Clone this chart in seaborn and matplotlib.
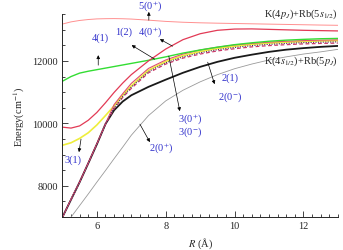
import matplotlib
matplotlib.use("Agg")
import matplotlib.pyplot as plt
from matplotlib.ticker import MultipleLocator
import seaborn as sns
import pandas as pd

# internuclear distance grid (Angstrom)
R = [5.0, 5.25, 5.5, 5.75, 6.0, 6.25, 6.5, 6.75, 7.0, 7.5, 8.0, 8.5,
     9.0, 9.5, 10.0, 10.5, 11.0, 11.5, 12.0, 12.5, 13.0]

# potential curves (cm^-1)
e_5_0p = [13180, 13250, 13295, 13325, 13345, 13352, 13355, 13350, 13340, 13305, 13265,
          13238, 13220, 13208, 13198, 13188, 13178, 13168, 13158, 13148, 13140]
e_4_0p = [9880, 9850, 9920, 10100, 10350, 10660, 10990, 11290, 11560, 12000, 12380,
          12680, 12870, 12980, 13020, 13025, 13010, 12995, 12980, 12970, 12960]
e_4_1 = [11350, 11500, 11610, 11670, 11720, 11770, 11820, 11870, 11920, 12020, 12130,
         12250, 12350, 12440, 12520, 12580, 12630, 12665, 12690, 12710, 12720]
e_3_1 = [9300, 9380, 9520, 9700, 9950, 10250, 10560, 10900, 11200, 11700, 11980,
         12170, 12300, 12400, 12470, 12530, 12570, 12600, 12620, 12640, 12650]
e_1_2 = [7000, 7570, 8140, 8740, 9360, 9990, 10600, 10950, 11280, 11760, 12030,
         12220, 12350, 12440, 12510, 12560, 12600, 12630, 12650, 12665, 12675]
e_3_0 = [7000, 7560, 8130, 8730, 9340, 9970, 10500, 10860, 11160, 11660, 11940,
         12130, 12260, 12360, 12430, 12490, 12530, 12560, 12585, 12600, 12610]
e_3_0m = [7000, 7560, 8120, 8720, 9330, 9970, 10470, 10830, 11120, 11620, 11900,
          12090, 12220, 12320, 12390, 12450, 12490, 12520, 12545, 12560, 12570]
e_2_1 = [7000, 7560, 8120, 8720, 9330, 9980, 10420, 10700, 10900, 11170, 11400,
         11620, 11810, 11970, 12100, 12200, 12290, 12360, 12410, 12450, 12480]
e_2_0p = [6630, 7000, 7370, 7740, 8120, 8490, 8870, 9240, 9620, 10250, 10720,
          11060, 11330, 11560, 11750, 11900, 12030, 12130, 12220, 12290, 12370]

curves = [
    (e_2_0p, "#9a9a9a", 0.6, "-"),
    (e_2_1, "#1a1a1a", 1.3, "-"),
    (e_3_0m, "#cc3a6a", 0.9, (0, (3, 2))),
    (e_3_1, "#eeee3c", 1.2, "-"),
    (e_1_2, "#e05070", 0.8, "-"),
    (e_3_0, "#4a2a5a", 0.8, (0, (1, 1.2))),
    (e_4_1, "#33dd33", 1.0, "-"),
    (e_4_0p, "#e23a55", 0.9, "-"),
    (e_5_0p, "#ff9090", 0.7, "-"),
]

sns.set_style("ticks")
plt.rcParams["font.family"] = ["Liberation Serif", "DejaVu Serif"]
plt.rcParams["mathtext.fontset"] = "stix"

fig = plt.figure(figsize=(3.43, 2.51), dpi=100)
ax = fig.add_axes([0.182, 0.131, 0.803, 0.809])

for e, c, lw, ls in curves:
    df = pd.DataFrame({"R": R, "E": e})
    sns.lineplot(data=df, x="R", y="E", color=c, lw=lw, linestyle=ls,
                 sort=False, estimator=None, ax=ax)

ax.set_xlim(5, 13)
ax.set_ylim(7000, 13500)
ax.xaxis.set_major_locator(MultipleLocator(2))
ax.xaxis.set_minor_locator(MultipleLocator(0.25))
ax.yaxis.set_major_locator(MultipleLocator(2000))
ax.yaxis.set_minor_locator(MultipleLocator(500))
ax.tick_params(which="both", direction="in", labelsize=7.5, width=0.6, pad=3)
ax.tick_params(which="major", length=4)
ax.tick_params(which="minor", length=2)
for s in ["top", "right"]:
    ax.spines[s].set_visible(False)
for s in ["left", "bottom"]:
    ax.spines[s].set_linewidth(0.7)

ax.set_xlabel(r"$R$ (Å)", fontsize=7.5, labelpad=4)
ax.set_ylabel(r"Energy(cm$^{-1}$)", fontsize=7.5, labelpad=4)

blue = "#3333cc"
labels = [
    (r"5(0$^{+}$)", 7.54, 13770), (r"4(1)", 6.09, 12760), (r"1(2)", 6.78, 12952),
    (r"4(0$^{+}$)", 7.54, 12952), (r"3(0$^{+}$)", 8.70, 10168), (r"3(0$^{-}$)", 8.70, 9752),
    (r"2(1)", 9.86, 11480), (r"2(0$^{-}$)", 9.88, 10872), (r"2(0$^{+}$)", 7.88, 9240),
    (r"3(1)", 5.30, 8856),
]
for t, x, y in labels:
    ax.text(x, y, t, color=blue, fontsize=7.5, ha="center", va="center", clip_on=False)

arrows = [
    ((7.51, 13304), (7.51, 13570)), ((6.04, 11864), (6.04, 12184)),
    ((7.68, 12056), (7.01, 12504)), ((8.20, 12472), (7.83, 12696)),
    ((8.09, 12152), (8.41, 10392)), ((9.22, 11960), (9.42, 11256)),
    ((7.25, 9976), (7.54, 9400)), ((5.54, 9496), (5.48, 9080)),
]
for tail, head in arrows:
    ax.annotate("", xy=head, xytext=tail, annotation_clip=False,
                arrowprops=dict(arrowstyle="-|>", lw=0.5, color="k",
                                mutation_scale=5, shrinkA=0, shrinkB=0))

ax.text(12.99, 13528, r"K(4$p_J$)+Rb(5$s_{1/2}$)", fontsize=7.5, ha="right",
        va="center", clip_on=False)
ax.text(12.99, 12024, r"K(4$s_{1/2}$)+Rb(5$p_J$)", fontsize=7.5, ha="right",
        va="center")

fig.savefig("out.png", dpi=100)
